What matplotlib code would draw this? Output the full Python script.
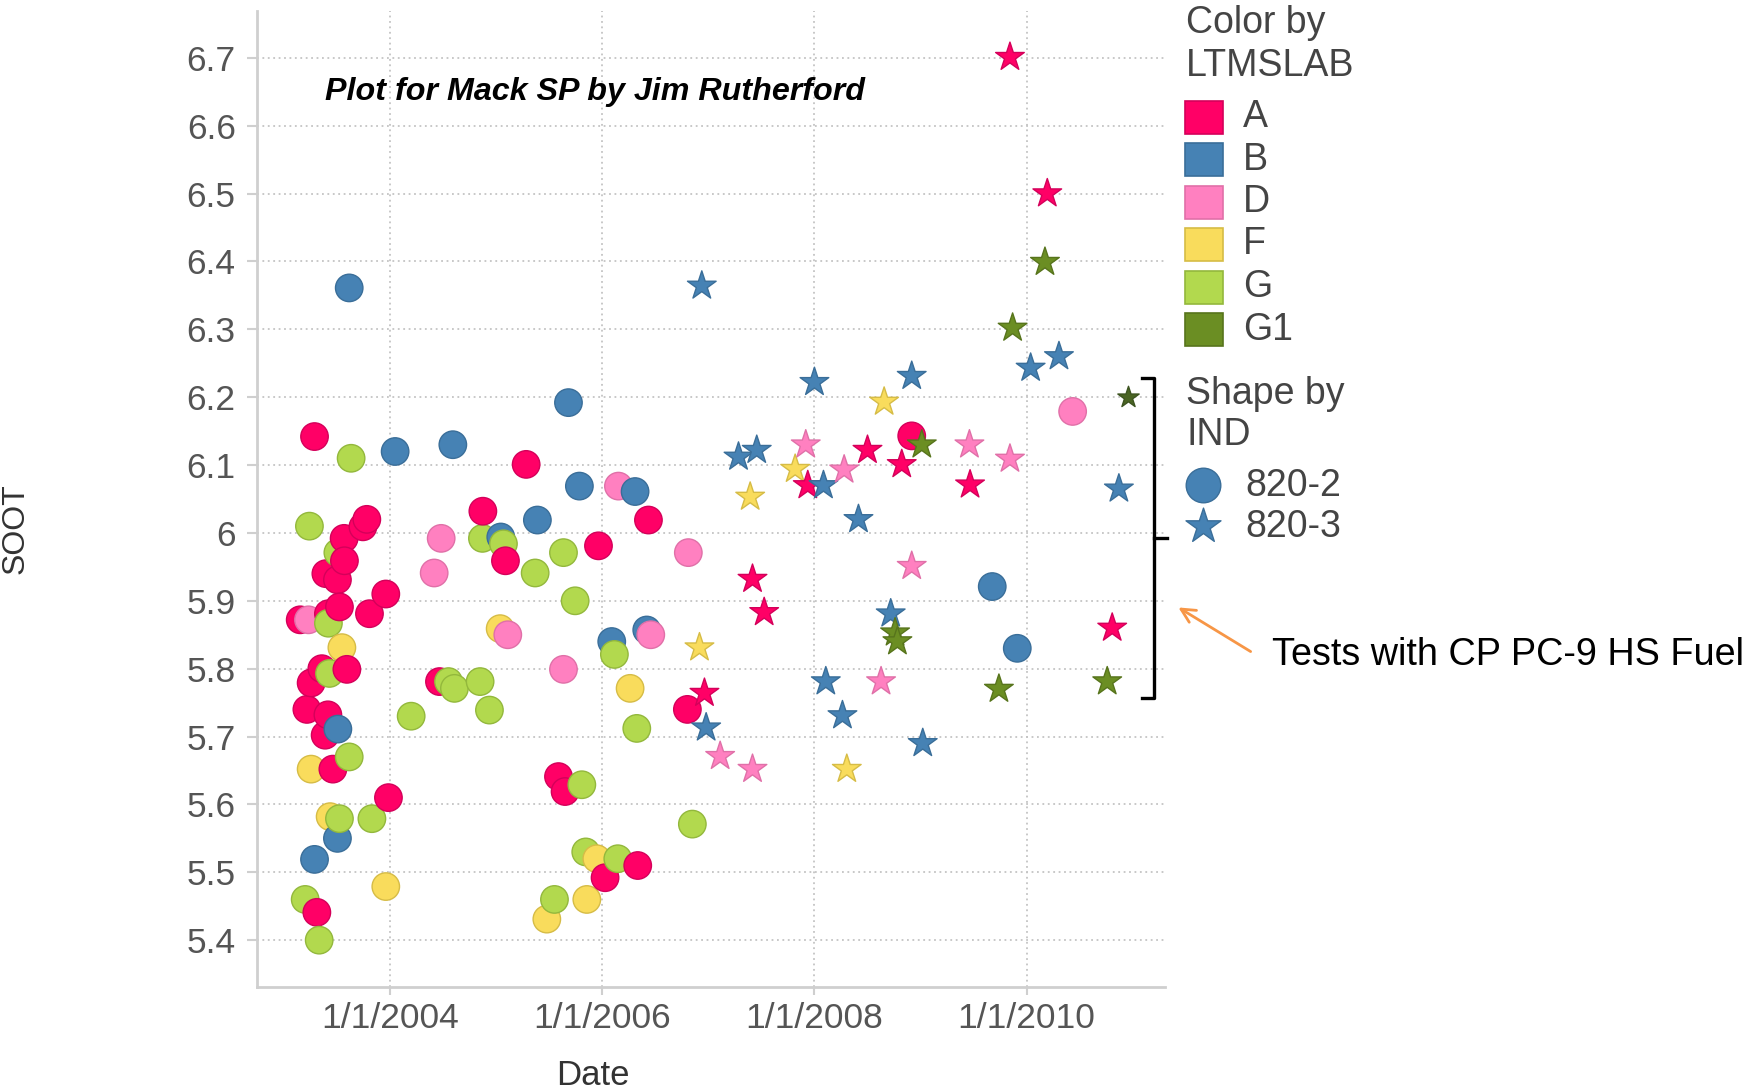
"""SOOT vs test date, coloured by LTMSLAB and shaped by IND (Mack SP)."""

import matplotlib

matplotlib.use("Agg")
import matplotlib.pyplot as plt
import pandas as pd
from matplotlib.patches import Rectangle

plt.rcParams["font.family"] = ["Liberation Sans", "DejaVu Sans"]

# ---- data: (decimal year, SOOT) -----------------------------------------
# IND 820-2 (circles)
A_CIRC = [(2003.152, 5.872), (2003.215, 5.740), (2003.255, 5.779), (2003.287, 6.142),
          (2003.309, 5.441), (2003.356, 5.800), (2003.387, 5.702), (2003.394, 5.940),
          (2003.413, 5.732), (2003.418, 5.881), (2003.460, 5.652), (2003.503, 5.931),
          (2003.522, 5.891), (2003.566, 5.992), (2003.569, 5.959), (2003.592, 5.799),
          (2003.743, 6.009), (2003.780, 6.020), (2003.805, 5.881), (2003.959, 5.910),
          (2003.984, 5.610), (2004.465, 5.781), (2004.874, 6.032), (2005.087, 5.959),
          (2005.282, 6.101), (2005.587, 5.641), (2005.649, 5.619), (2005.964, 5.981),
          (2006.026, 5.492), (2006.334, 5.510), (2006.435, 6.019), (2006.802, 5.740),
          (2008.917, 6.143)]
B_CIRC = [(2003.287, 5.519), (2003.503, 5.550), (2003.507, 5.711), (2003.614, 6.361),
          (2004.047, 6.120), (2004.591, 6.130), (2005.043, 5.994), (2005.388, 6.019),
          (2005.681, 6.192), (2005.784, 6.069), (2006.089, 5.840), (2006.309, 6.061),
          (2006.419, 5.857), (2009.676, 5.921), (2009.912, 5.830)]
D_CIRC = [(2003.230, 5.872), (2004.415, 5.941), (2004.481, 5.992), (2005.109, 5.850),
          (2005.634, 5.799), (2006.152, 6.069), (2006.457, 5.850), (2006.811, 5.971),
          (2010.434, 6.179)]
F_CIRC = [(2003.255, 5.652), (2003.434, 5.582), (2003.545, 5.831), (2003.959, 5.479),
          (2005.037, 5.859), (2005.477, 5.431), (2005.854, 5.460), (2005.948, 5.520),
          (2006.262, 5.771)]
G_CIRC = [(2003.199, 5.460), (2003.239, 6.010), (2003.331, 5.400), (2003.418, 5.867),
          (2003.428, 5.793), (2003.507, 5.971), (2003.522, 5.579), (2003.614, 5.670),
          (2003.632, 6.110), (2003.828, 5.579), (2004.198, 5.730), (2004.550, 5.781),
          (2004.606, 5.771), (2004.848, 5.781), (2004.870, 5.992), (2004.936, 5.739),
          (2005.068, 5.984), (2005.367, 5.941), (2005.549, 5.460), (2005.634, 5.971),
          (2005.744, 5.900), (2005.807, 5.629), (2005.844, 5.530), (2006.114, 5.821),
          (2006.146, 5.520), (2006.325, 5.712), (2006.849, 5.571)]

# IND 820-3 (stars)
A_STAR = [(2006.963, 5.764), (2007.416, 5.932), (2007.526, 5.883), (2007.937, 6.070),
          (2008.500, 6.122), (2008.823, 6.101), (2009.467, 6.071), (2009.843, 6.701),
          (2010.195, 6.500), (2010.807, 5.860)]
B_STAR = [(2006.938, 6.364), (2006.979, 5.713), (2007.284, 6.112), (2007.456, 6.122),
          (2008.000, 6.222), (2008.085, 6.070), (2008.107, 5.781), (2008.264, 5.731),
          (2008.415, 6.020), (2008.719, 5.881), (2008.917, 6.231), (2009.021, 5.690),
          (2010.038, 6.243), (2010.305, 6.260), (2010.870, 6.065)]
D_STAR = [(2007.111, 5.671), (2007.416, 5.652), (2007.918, 6.130), (2008.280, 6.093),
          (2008.628, 5.781), (2008.917, 5.951), (2009.461, 6.130), (2009.843, 6.109)]
F_STAR = [(2006.916, 5.831), (2007.394, 6.053), (2007.818, 6.094), (2008.305, 5.652),
          (2008.657, 6.193)]
G1_STAR = [(2008.760, 5.853), (2008.782, 5.840), (2009.012, 6.130), (2009.739, 5.770),
           (2009.868, 6.302), (2010.173, 6.399), (2010.760, 5.781)]
G1_MARKED = [(2010.958, 6.201)]  # small dark star at the top of the bracket

LABS = ["A", "B", "D", "F", "G", "G1"]
FILL = {"A": "#FF0066", "B": "#4682B4", "D": "#FF80C0",
        "F": "#F9DC5C", "G": "#B2D94E", "G1": "#6B8E23"}
EDGE = {"A": "#D4005A", "B": "#3A6E99", "D": "#E070A8",
        "F": "#D6BC46", "G": "#93B83C", "G1": "#57741C"}

YTICKS = [5.4, 5.5, 5.6, 5.7, 5.8, 5.9, 6.0, 6.1, 6.2, 6.3, 6.4, 6.5, 6.6, 6.7]
XTICKS = [2004, 2006, 2008, 2010]
XTICK_LABELS = ["1/1/2004", "1/1/2006", "1/1/2008", "1/1/2010"]


def frame(groups):
    rows = [(x, y, lab) for lab, pts in groups for x, y in pts]
    return pd.DataFrame(rows, columns=["date", "soot", "lab"]).sort_values("date")


circ = frame([("A", A_CIRC), ("B", B_CIRC), ("D", D_CIRC), ("F", F_CIRC), ("G", G_CIRC)])
star = frame([("A", A_STAR), ("B", B_STAR), ("D", D_STAR), ("F", F_STAR), ("G1", G1_STAR)])

W, H = 1761, 1089
fig = plt.figure(figsize=(W / 100, H / 100), dpi=100)
ax = fig.add_axes([256.5 / W, 1 - 987 / H, 908 / W, 976 / H])

GRID = "#c4c4c4"
ax.scatter(circ["date"], circ["soot"], s=390, marker="o",
           c=circ["lab"].map(FILL), edgecolors=circ["lab"].map(EDGE),
           linewidths=1.0, zorder=3)
ax.scatter(star["date"], star["soot"], s=470, marker="*",
           c=star["lab"].map(FILL), edgecolors=star["lab"].map(EDGE),
           linewidths=1.0, zorder=4)
mx, my = zip(*G1_MARKED)
ax.scatter(mx, my, s=260, marker="*", c="#4B6524", edgecolors="#3d5420",
           linewidths=1.0, zorder=4)

ax.set_xlim(2002.74, 2011.30)
ax.set_ylim(5.331, 6.769)
ax.set_yticks(YTICKS)
ax.set_yticklabels([f"{v:g}" for v in YTICKS])
ax.set_xticks(XTICKS)
ax.set_xticklabels(XTICK_LABELS)
ax.grid(True, color=GRID, linestyle=(0, (1, 2)), linewidth=1.3, zorder=0)
for side in ("top", "right"):
    ax.spines[side].set_visible(False)
for side in ("left", "bottom"):
    ax.spines[side].set_color("#cfcfcf")
    ax.spines[side].set_linewidth(2)
ax.tick_params(axis="y", length=7, width=1.5, color="#cfcfcf", labelsize=25.5,
               labelcolor="#555555", pad=8)
ax.tick_params(axis="x", length=6, width=1.5, color="#cfcfcf", labelsize=25.5,
               labelcolor="#555555", pad=5)
ax.set_xlabel("Date", fontsize=25, color="#333333", va="center")
ax.set_ylabel("SOOT", fontsize=23, color="#333333")
ax.xaxis.set_label_coords(0.3706, -0.0902)
ax.yaxis.set_label_coords(-0.249, 0.47)
ax.text(0.075, 0.917, "Plot for Mack SP by Jim Rutherford", transform=ax.transAxes,
        fontsize=23.2, fontweight="bold", fontstyle="italic", va="center", ha="left")

# overlay in pixel coordinates for the legend and the annotation
lax = fig.add_axes([0, 0, 1, 1], zorder=5)
lax.set_xlim(0, W)
lax.set_ylim(H, 0)
lax.axis("off")

TXT = "#444444"
LEG_FS = 27
lax.text(1186, 23, "Color by", fontsize=LEG_FS, color=TXT, va="center")
lax.text(1186, 66, "LTMSLAB", fontsize=LEG_FS, color=TXT, va="center")
for i, lab in enumerate(LABS):
    yc = 117 + i * 42.5
    lax.add_patch(Rectangle((1185, yc - 16.5), 38, 33, facecolor=FILL[lab],
                            edgecolor=EDGE[lab], linewidth=1.2))
    lax.text(1243, yc, lab, fontsize=LEG_FS, color=TXT, va="center")

lax.text(1186, 394, "Shape by", fontsize=LEG_FS, color=TXT, va="center")
lax.text(1186, 435, "IND", fontsize=LEG_FS, color=TXT, va="center")
lax.scatter([1203], [485], s=620, marker="o", c=FILL["B"], edgecolors=EDGE["B"])
lax.scatter([1203], [526], s=700, marker="*", c=FILL["B"], edgecolors=EDGE["B"])
lax.text(1245, 486, "820-2", fontsize=LEG_FS, color=TXT, va="center")
lax.text(1245, 527, "820-3", fontsize=LEG_FS, color=TXT, va="center")

# bracket around the CP PC-9 HS fuel tests
lax.plot([1142, 1154, 1154, 1142], [378, 378, 698, 698], color="black", lw=2.4,
         solid_joinstyle="round")
lax.plot([1154, 1167], [538, 538], color="black", lw=2.4)
lax.annotate("", xy=(1176, 606), xytext=(1253, 653),
             arrowprops=dict(arrowstyle="->", color="#F79646", lw=2,
                             mutation_scale=25))
lax.text(1272, 655, "Tests with CP PC-9 HS Fuel", fontsize=27.2, color="black",
         va="center", ha="left")

fig.savefig("out.png", dpi=100)
